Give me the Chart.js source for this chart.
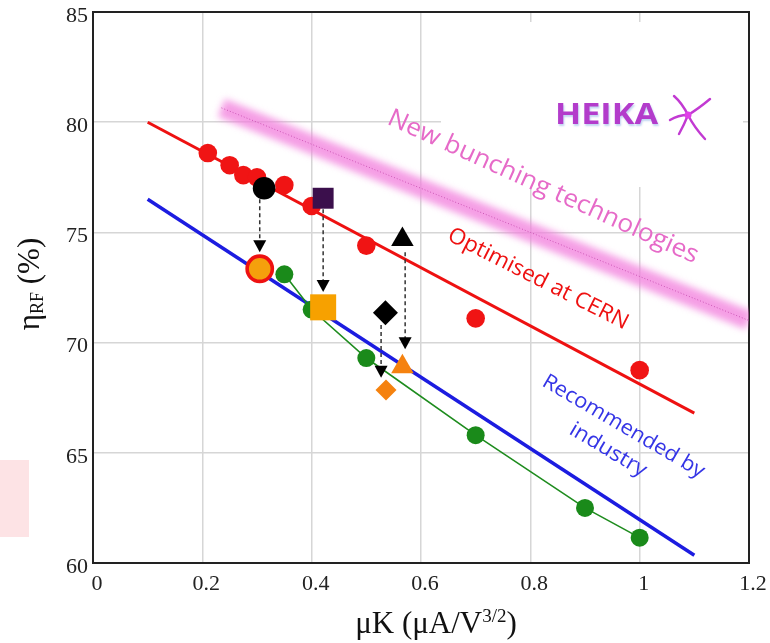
<!DOCTYPE html>
<html>
<head>
<meta charset="utf-8">
<script src="https://cdn.jsdelivr.net/npm/chart.js@4.4.0/dist/chart.umd.min.js"></script>
<style>
  body { margin: 0; background: #fff; }
  #wrap { width: 770px; height: 643px; }
</style>
</head>
<body>
<div id="wrap"><canvas id="chart" width="770" height="643"></canvas></div>
<script>
// axis ticks
const xTicks = [0, 0.2, 0.4, 0.6, 0.8, 1, 1.2];
const yTicks = [60, 65, 70, 75, 80, 85];

// trend lines
const bandX = [0.235, 1.2];
const bandY = [80.65, 71.0];
const cernLineX = [0.1, 1.1];
const cernLineY = [80.0, 66.8];
const industryLineX = [0.1, 1.1];
const industryLineY = [76.5, 60.35];

// measured points
const cernX = [0.21, 0.25, 0.275, 0.30, 0.35, 0.40, 0.50, 0.70, 1.00];
const cernY = [78.6, 78.05, 77.6, 77.5, 77.15, 76.2, 74.4, 71.1, 68.75];
const greenX = [0.35, 0.40, 0.50, 0.70, 0.90, 1.00];
const greenY = [73.1, 71.5, 69.3, 65.8, 62.5, 61.15];

// single markers: before / after
const circleBefore = [0.313, 77.0];
const circleAfter = [0.305, 73.35];
const squareBefore = [0.421, 76.55];
const squareAfter = [0.421, 71.6];
const diamondBefore = [0.535, 71.35];
const diamondAfter = [0.536, 67.85];
const triangleBefore = [0.566, 74.68];
const triangleAfter = [0.566, 68.9];

// dashed arrows
const arrowX = [0.305, 0.421, 0.527, 0.571];
const arrowFrom = [76.5, 76.05, 70.8, 74.1];
const arrowTo = [74.1, 72.3, 68.4, 69.7];

const pts = (xs, ys) => xs.map((v, i) => ({ x: v, y: ys[i] }));
const one = p => [{ x: p[0], y: p[1] }];

const SERIF = '"Liberation Serif", "DejaVu Serif", serif';
const SANS = '"Open Sans", "Noto Sans", sans-serif';

function alongLine(ctx, text, x1, y1, x2, y2, size, color, weight) {
  const len = Math.hypot(x2 - x1, y2 - y1);
  const ang = Math.atan2(y2 - y1, x2 - x1);
  ctx.save();
  ctx.font = (weight || '') + ' ' + size + 'px ' + SANS;
  ctx.fillStyle = color;
  ctx.translate((x1 + x2) / 2, (y1 + y2) / 2);
  ctx.rotate(ang);
  const w = ctx.measureText(text).width;
  ctx.scale(len / w, 1);
  ctx.textAlign = 'center';
  ctx.textBaseline = 'middle';
  ctx.fillText(text, 0, 0);
  ctx.restore();
}

const decor = {
  id: 'decor',
  beforeDatasetsDraw(chart) {
    const { ctx, chartArea: a } = chart;
    ctx.save();
    ctx.fillStyle = '#fff';
    ctx.fillRect(441, 22, 302, 165);
    ctx.strokeStyle = '#222';
    ctx.lineWidth = 2;
    ctx.strokeRect(a.left, a.top, a.right - a.left, a.bottom - a.top);
    ctx.restore();
  },
  beforeDatasetDraw(chart, args) {
    if (chart.data.datasets[args.index].blur) {
      chart.ctx.save();
      chart.ctx.filter = 'blur(3.5px)';
    }
  },
  afterDatasetDraw(chart, args) {
    if (chart.data.datasets[args.index].blur) chart.ctx.restore();
  },
  afterDatasetsDraw(chart) {
    const { ctx, scales: { x, y } } = chart;
    ctx.save();
    arrowX.forEach((v, i) => {
      const px = x.getPixelForValue(v);
      const p0 = y.getPixelForValue(arrowFrom[i]);
      const p1 = y.getPixelForValue(arrowTo[i]);
      ctx.strokeStyle = '#333';
      ctx.lineWidth = 1.5;
      ctx.setLineDash([4, 3]);
      ctx.beginPath();
      ctx.moveTo(px, p0);
      ctx.lineTo(px, p1 - 10);
      ctx.stroke();
      ctx.setLineDash([]);
      ctx.fillStyle = '#000';
      ctx.beginPath();
      ctx.moveTo(px, p1);
      ctx.lineTo(px - 6.5, p1 - 12);
      ctx.lineTo(px + 6.5, p1 - 12);
      ctx.closePath();
      ctx.fill();
    });
    ctx.restore();
  },
  afterDraw(chart) {
    const { ctx } = chart;
    ctx.save();
    // pale block at left edge
    ctx.fillStyle = '#fde3e5';
    ctx.fillRect(0, 460, 29, 77);

    // annotations
    alongLine(ctx, 'New bunching technologies', 389, 117, 697, 257, 25, '#e66ac8');
    alongLine(ctx, 'Optimised at CERN', 449, 234, 627, 324, 22, '#ee1111');
    alongLine(ctx, 'Recommended by', 544, 380, 703, 473, 21, '#3535e6');
    alongLine(ctx, 'industry', 571, 428, 645, 472, 21, '#3535e6');

    // HEIKA logo
    ctx.save();
    ctx.font = 'bold 29px ' + SANS;
    const hw = ctx.measureText('HEIKA').width;
    ctx.translate(555, 116);
    ctx.scale(103 / hw, 1);
    ctx.textBaseline = 'middle';
    ctx.shadowColor = 'rgba(120,160,225,0.45)';
    ctx.shadowOffsetX = 1;
    ctx.shadowOffsetY = 1.5;
    ctx.shadowBlur = 2;
    ctx.fillStyle = '#b33ccb';
    ctx.fillText('HEIKA', 0, 0);
    ctx.restore();
    ctx.save();
    ctx.strokeStyle = '#c23ad2';
    ctx.lineCap = 'round';
    ctx.lineWidth = 2.4;
    const cx = 688, cy = 115;
    const arms = [[-6, -12, -14, -19], [10, -6, 22, -16], [-10, 0, -18, 5], [6, 12, 17, 24], [-4, 10, -9, 19]];
    arms.forEach(([qx, qy, ex, ey]) => {
      ctx.beginPath();
      ctx.moveTo(cx, cy);
      ctx.quadraticCurveTo(cx + qx, cy + qy, cx + ex, cy + ey);
      ctx.stroke();
    });
    ctx.fillStyle = '#e040e8';
    ctx.beginPath();
    ctx.arc(cx, cy, 3.5, 0, Math.PI * 2);
    ctx.fill();
    ctx.restore();

    // y axis title
    ctx.save();
    ctx.fillStyle = '#111';
    ctx.translate(39, 284);
    ctx.rotate(-Math.PI / 2);
    ctx.textBaseline = 'alphabetic';
    const f1 = '31px ' + SERIF, f2 = '18px ' + SERIF;
    ctx.font = f1; const w1 = ctx.measureText('\u03b7').width;
    ctx.font = f2; const w2 = ctx.measureText('RF').width;
    ctx.font = f1; const w3 = ctx.measureText(' (%)').width;
    let sx = -(w1 + w2 + w3) / 2;
    ctx.font = f1; ctx.fillText('\u03b7', sx, 0); sx += w1;
    ctx.font = f2; ctx.fillText('RF', sx, 4); sx += w2;
    ctx.font = f1; ctx.fillText(' (%)', sx, 0);
    ctx.restore();

    // x axis title
    ctx.save();
    ctx.fillStyle = '#111';
    const g1 = '31px ' + SERIF, g2 = '19px ' + SERIF;
    ctx.font = g1; const a1 = ctx.measureText('\u03bcK (\u03bcA/V').width;
    ctx.font = g2; const a2 = ctx.measureText('3/2').width;
    ctx.font = g1; const a3 = ctx.measureText(')').width;
    let tx = 436 - (a1 + a2 + a3) / 2;
    const by = 633;
    ctx.font = g1; ctx.fillText('\u03bcK (\u03bcA/V', tx, by); tx += a1;
    ctx.font = g2; ctx.fillText('3/2', tx, by - 11); tx += a2;
    ctx.font = g1; ctx.fillText(')', tx, by);
    ctx.restore();
    ctx.restore();
  }
};

const scatterPt = (label, data, style, radius, color, order, extra) => Object.assign({
  label, data, pointStyle: style, pointRadius: radius, backgroundColor: color,
  borderColor: color, borderWidth: 0, showLine: false, order
}, extra || {});

new Chart(document.getElementById('chart'), {
  type: 'scatter',
  data: {
    datasets: [
      { label: 'band', data: pts(bandX, bandY), showLine: true, borderColor: 'rgba(242,125,220,0.75)',
        borderWidth: 19, pointRadius: 0, borderCapStyle: 'butt', blur: true, order: 30 },
      { label: 'bandDots', data: pts(bandX, bandY), showLine: true, borderColor: '#cc55b5',
        borderWidth: 1, borderDash: [1, 2], pointRadius: 0, order: 29 },
      { label: 'cern', data: pts(cernLineX, cernLineY), showLine: true, borderColor: '#ee1111',
        borderWidth: 3, pointRadius: 0, order: 25 },
      { label: 'industry', data: pts(industryLineX, industryLineY), showLine: true, borderColor: '#1c1ce0',
        borderWidth: 3.5, pointRadius: 0, order: 24 },
      { label: 'green', data: pts(greenX, greenY), showLine: true, borderColor: '#1e8c1e', borderWidth: 1.6,
        pointRadius: 9, pointBackgroundColor: '#1a8a1a', pointBorderWidth: 0, order: 20 },
      scatterPt('cernPts', pts(cernX, cernY), 'circle', 9.3, '#f01414', 15),
      scatterPt('circleBefore', one(circleBefore), 'circle', 11.3, '#000', 5),
      scatterPt('circleAfter', one(circleAfter), 'circle', 12.6, '#f5a00c', 5, { borderColor: '#ee1111', borderWidth: 3.6 }),
      scatterPt('squareBefore', one(squareBefore), 'rect', 14.8, '#3b0f4c', 5),
      scatterPt('squareAfter', one(squareAfter), 'rect', 18.4, '#f7a100', 5),
      scatterPt('diamondBefore', one(diamondBefore), 'rectRot', 12.5, '#000', 5),
      scatterPt('diamondAfter', one(diamondAfter), 'rectRot', 10.5, '#f5820f', 5),
      scatterPt('triangleBefore', one(triangleBefore), 'triangle', 13, '#000', 5),
      scatterPt('triangleAfter', one(triangleAfter), 'triangle', 13, '#f5820f', 5)
    ]
  },
  options: {
    responsive: false,
    animation: false,
    layout: { autoPadding: false, padding: { left: 0, right: 21, top: 12, bottom: 0 } },
    plugins: { legend: { display: false }, tooltip: { enabled: false } },
    scales: {
      x: {
        type: 'linear', min: 0, max: 1.2,
        afterBuildTicks: s => { s.ticks = xTicks.map(v => ({ value: v })); },
        afterFit: s => { s.height = 80; s.paddingRight = 0; s.paddingLeft = 0; },
        grid: { color: '#d6d6d6', lineWidth: 1.5, drawTicks: false },
        border: { color: '#111', width: 2 },
        ticks: { padding: 8, labelOffset: 4, color: '#222', font: { family: SERIF, size: 22 },
          callback: v => String(v) }
      },
      y: {
        type: 'linear', min: 60, max: 85,
        afterBuildTicks: s => { s.ticks = yTicks.map(v => ({ value: v })); },
        afterFit: s => { s.width = 93; },
        grid: { color: '#d6d6d6', lineWidth: 1.5, drawTicks: false },
        border: { color: '#111', width: 2 },
        ticks: { padding: 5, labelOffset: 4, color: '#222', font: { family: SERIF, size: 22, lineHeight: 0.4 } }
      }
    }
  },
  plugins: [decor]
});
</script>
</body>
</html>
